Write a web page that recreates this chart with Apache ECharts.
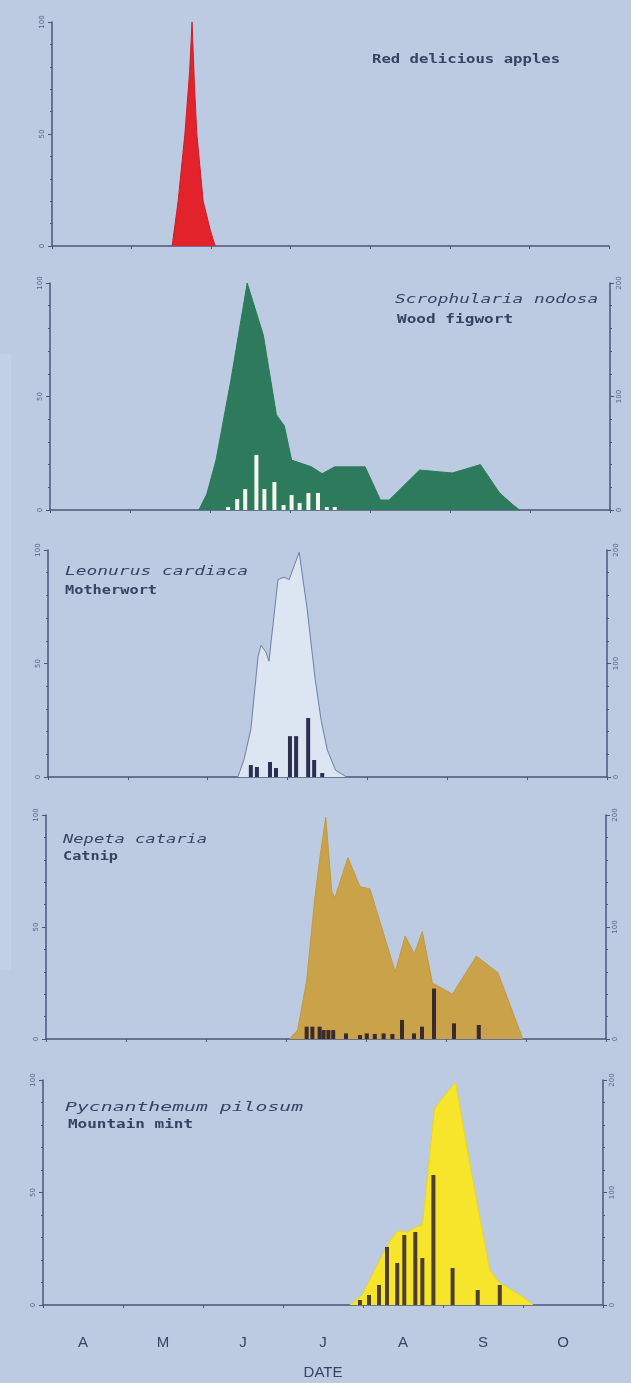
<!DOCTYPE html>
<html>
<head>
<meta charset="utf-8">
<script src="https://cdn.jsdelivr.net/npm/echarts@6/dist/echarts.min.js"></script>
<style>
  html, body { margin: 0; padding: 0; background: #bdcbe2; }
  #chart { width: 631px; height: 1383px; }
</style>
</head>
<body>
<div id="chart"></div>
<script>
// x values are months counted from 1 April (0 = Apr 1, 7 = Nov 1)
const monthLabels = ['A', 'M', 'J', 'J', 'A', 'S', 'O'];
const leftTickValues = [0, 50, 100];
const rightTickValues = [0, 100, 200];

// Flowering curves (left scale, % of peak)
const applesCurve = [[1.51, 0], [1.585, 20], [1.67, 50], [1.73, 78], [1.76, 100], [1.79, 72], [1.82, 50], [1.90, 20], [1.99, 7], [2.05, 0]];
const figwortCurve = [[1.86, 0], [1.96, 7], [2.075, 22], [2.26, 57], [2.465, 100], [2.667, 77], [2.83, 42], [2.93, 37], [3.02, 22], [3.27, 19], [3.40, 16], [3.56, 19], [3.94, 19], [4.13, 4.4], [4.24, 4.4], [4.62, 17.6], [5.03, 16.3], [5.38, 20], [5.62, 7.5], [5.79, 2.2], [5.87, 0]];
const motherwortCurve = [[2.377, 0], [2.453, 7.5], [2.54, 21], [2.63, 53], [2.667, 58], [2.73, 55], [2.767, 51], [2.88, 87], [2.956, 88], [3.02, 87], [3.145, 99], [3.245, 74], [3.346, 43], [3.42, 25], [3.497, 12], [3.6, 3], [3.74, 0]];
const catnipCurve = [[3.044, 0], [3.145, 4], [3.258, 26], [3.358, 62], [3.42, 80], [3.497, 99], [3.572, 66], [3.61, 63], [3.774, 81], [3.925, 68], [4.05, 67], [4.365, 30], [4.49, 46], [4.604, 38], [4.704, 48], [4.83, 25], [5.08, 20], [5.38, 37], [5.65, 29.5], [5.96, 0]];
const mintCurve = [[3.836, 0], [3.987, 4.4], [4.239, 22], [4.365, 30], [4.44, 33], [4.553, 32.4], [4.667, 34.7], [4.742, 35.6], [4.893, 87], [4.97, 91], [5.157, 99], [5.37, 56], [5.585, 15.6], [5.71, 9.8], [6.0, 3.6], [6.126, 0]];

// Visit counts (right scale)
const figwortBars = [[2.226, 2.6], [2.34, 9.7], [2.44, 18.5], [2.58, 48.5], [2.68, 18.5], [2.805, 24.7], [2.92, 4.4], [3.02, 13.2], [3.12, 6.2], [3.23, 15], [3.35, 15], [3.46, 2.6], [3.56, 2.6]];
const motherwortBars = [[2.54, 10.6], [2.616, 8.8], [2.78, 13.2], [2.855, 7.9], [3.03, 36], [3.107, 36], [3.258, 52], [3.333, 15], [3.434, 3.5]];
const catnipBars = [[3.258, 11], [3.33, 11], [3.42, 11], [3.47, 8], [3.53, 8], [3.59, 8], [3.75, 5], [3.925, 3.5], [4.01, 5], [4.11, 4.5], [4.22, 5], [4.33, 4.5], [4.45, 17], [4.60, 5], [4.70, 11], [4.85, 45], [5.10, 14], [5.41, 12.5]];
const mintBars = [[3.962, 4.4], [4.075, 8.9], [4.2, 17.8], [4.30, 51.6], [4.428, 37.3], [4.516, 62.2], [4.654, 64.9], [4.742, 41.8], [4.88, 115.6], [5.12, 32.9], [5.434, 13.3], [5.71, 17.8]];

const axisColor = '#4c5577';
const textColor = '#3a4264';

const panels = [
  { left: 52, top: 22, height: 224, width: 557, curve: applesCurve, fill: '#e3232c', line: '#c8202a', bars: null, barColor: null, right: false,
    labels: [{ t: 'Red delicious apples', x: 372, y: 60, w: 188, italic: false, bold: true }] },
  { left: 50, top: 283, height: 227, width: 560, curve: figwortCurve, fill: '#2d7a5c', line: '#2d7a5c', bars: figwortBars, barColor: '#f3f5ef', right: true,
    labels: [{ t: 'Scrophularia nodosa', x: 395, y: 300, w: 203, italic: true }, { t: 'Wood figwort', x: 397, y: 320, w: 116, bold: true }] },
  { left: 48, top: 550, height: 227, width: 559, curve: motherwortCurve, fill: '#dce5f2', line: '#6f7ea6', bars: motherwortBars, barColor: '#2b2f50', right: true,
    labels: [{ t: 'Leonurus cardiaca', x: 65, y: 572, w: 183, italic: true }, { t: 'Motherwort', x: 65, y: 591, w: 92, bold: true }] },
  { left: 46, top: 815, height: 224, width: 560, curve: catnipCurve, fill: '#c9a24a', line: '#c09a45', bars: catnipBars, barColor: '#3b2a2b', right: true,
    labels: [{ t: 'Nepeta cataria', x: 63, y: 840, w: 144, italic: true }, { t: 'Catnip', x: 63, y: 857, w: 55, bold: true }] },
  { left: 43, top: 1080, height: 225, width: 560, curve: mintCurve, fill: '#f6e52b', line: '#e8d426', bars: mintBars, barColor: '#4d3f2c', right: true,
    labels: [{ t: 'Pycnanthemum pilosum', x: 65, y: 1108, w: 238, italic: true }, { t: 'Mountain mint', x: 68, y: 1125, w: 125, bold: true }] }
];

const grid = [], xAxis = [], yAxis = [], series = [], graphic = [];

// a faint lighter strip along the left edge of the sheet
graphic.push({ type: 'rect', left: 0, top: 354, shape: { width: 11, height: 616 }, style: { fill: '#c3d1e8' }, z: -1 });

panels.forEach((p, i) => {
  grid.push({ left: p.left, top: p.top, width: p.width, height: p.height });
  xAxis.push({
    type: 'value', gridIndex: i, min: 0, max: 7, interval: 1,
    axisLine: { show: true, onZero: false, lineStyle: { color: axisColor, width: 1.5 } },
    axisTick: { show: true, length: 3, lineStyle: { color: axisColor } },
    axisLabel: { show: false }, splitLine: { show: false }
  });
  const leftIdx = yAxis.length;
  yAxis.push({
    type: 'value', gridIndex: i, min: 0, max: 100, interval: 50, position: 'left',
    axisLine: { show: true, lineStyle: { color: axisColor, width: 1.5 } },
    axisTick: { show: true, length: 4, lineStyle: { color: axisColor } },
    minorTick: { show: true, splitNumber: 5, length: 2, lineStyle: { color: axisColor } },
    axisLabel: { show: true, rotate: 90, fontSize: 7, color: '#59638a', margin: 6, fontFamily: 'DejaVu Sans',
      formatter: v => leftTickValues.includes(v) ? String(v) : '' },
    splitLine: { show: false }
  });
  let rightIdx = leftIdx;
  if (p.right) {
    rightIdx = yAxis.length;
    yAxis.push({
      type: 'value', gridIndex: i, min: 0, max: 200, interval: 100, position: 'right',
      axisLine: { show: true, lineStyle: { color: axisColor, width: 1.5 } },
      axisTick: { show: true, length: 4, lineStyle: { color: axisColor } },
      minorTick: { show: true, splitNumber: 5, length: 2, lineStyle: { color: axisColor } },
      axisLabel: { show: true, rotate: 90, fontSize: 7, color: '#59638a', margin: 6, fontFamily: 'DejaVu Sans',
        formatter: v => rightTickValues.includes(v) ? String(v) : '' },
      splitLine: { show: false }
    });
  }
  series.push({
    type: 'line', xAxisIndex: i, yAxisIndex: leftIdx, data: p.curve,
    showSymbol: false, smooth: false, silent: true,
    lineStyle: { color: p.line, width: 1 },
    areaStyle: { color: p.fill, opacity: 1 }, z: 2
  });
  if (p.bars) {
    series.push({
      type: 'bar', xAxisIndex: i, yAxisIndex: rightIdx, data: p.bars,
      barWidth: 4, itemStyle: { color: p.barColor }, silent: true, z: 3
    });
  }
  p.labels.forEach(l => {
    const charW = 7.22; // DejaVu Sans Mono advance at 12px
    const sx = l.w / (l.t.length * charW);
    graphic.push({
      type: 'text', x: l.x, y: l.y, scaleX: sx, silent: true, z: 10,
      style: {
        text: l.t, fill: textColor, align: 'left', verticalAlign: 'middle',
        font: (l.italic ? 'italic ' : '') + (l.bold ? 'bold ' : '') + '12px "DejaVu Sans Mono"'
      }
    });
  });
});

// month band labels under the bottom panel
xAxis.push({
  type: 'category', gridIndex: 4, data: monthLabels, position: 'bottom', boundaryGap: true,
  axisLine: { show: false }, axisTick: { show: false }, splitLine: { show: false },
  axisLabel: { show: true, fontSize: 15, color: textColor, margin: 30, fontFamily: 'Liberation Sans' },
  name: 'DATE', nameLocation: 'middle', nameGap: 60,
  nameTextStyle: { fontSize: 15, color: textColor, fontFamily: 'Liberation Sans' }
});

const chart = echarts.init(document.getElementById('chart'), null, { renderer: 'canvas' });
chart.setOption({
  backgroundColor: '#bdcbe2',
  animation: false,
  grid, xAxis, yAxis, series, graphic
});
</script>
</body>
</html>
